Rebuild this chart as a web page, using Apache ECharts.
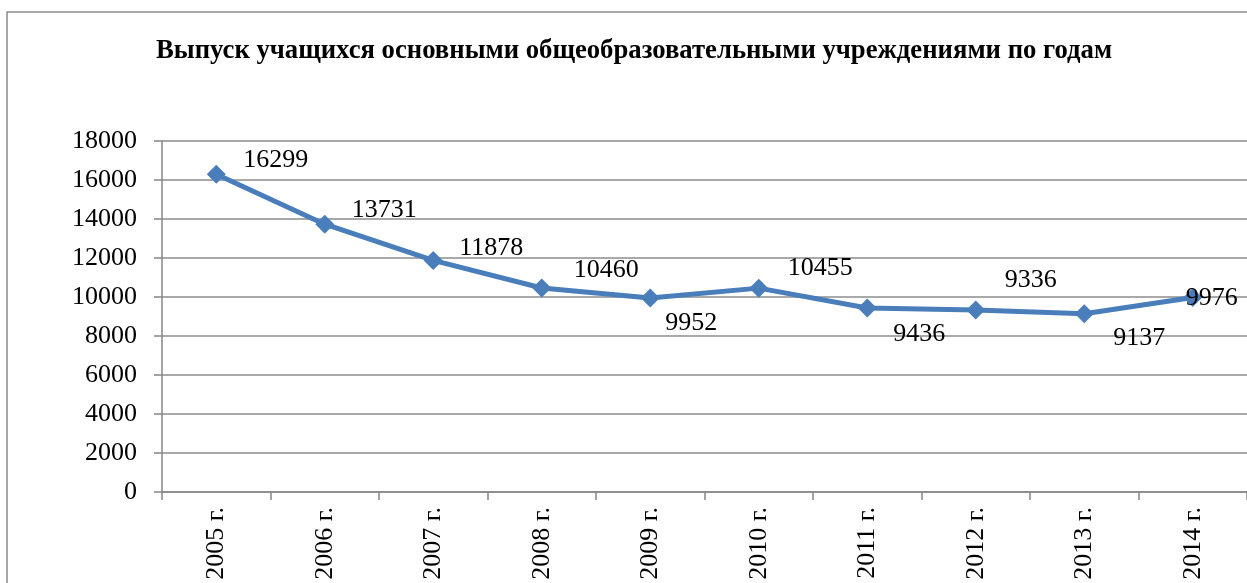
<!DOCTYPE html>
<html>
<head>
<meta charset="utf-8">
<script src="https://cdn.jsdelivr.net/npm/echarts@6/dist/echarts.min.js"></script>
<style>
html,body{margin:0;padding:0;background:#fff;}
#chart{width:1247px;height:583px;}
</style>
</head>
<body>
<div id="chart"></div>
<script>
// ---- data ----
const titleText = 'Выпуск учащихся основными общеобразовательными учреждениями по годам';
const categories = ['2005 г.', '2006 г.', '2007 г.', '2008 г.', '2009 г.', '2010 г.', '2011 г.', '2012 г.', '2013 г.', '2014 г.'];
const values = [16299, 13731, 11878, 10460, 9952, 10455, 9436, 9336, 9137, 9976];
const yTicks = [0, 2000, 4000, 6000, 8000, 10000, 12000, 14000, 16000, 18000];

// ---- presentation (label placement per point) ----
const labelOffsets = [[27,-14],[27,-14],[26,-12],[32,-18],[15,25],[29,-20],[26,26],[29,-30],[29,24],[-7,1]];

const FONT = 'Liberation Serif, Times New Roman, serif';
const FS = 26;
const chart = echarts.init(document.getElementById('chart'), null, {renderer:'canvas'});
const seriesData = values.map((v, i) => ({
  value: v,
  label: {
    show: true,
    position: 'inside',
    align: 'left',
    verticalAlign: 'middle',
    offset: labelOffsets[i],
    fontFamily: FONT,
    fontSize: FS,
    color: '#000'
  }
}));

chart.setOption({
  animation: false,
  backgroundColor: '#fff',
  title: {
    text: titleText,
    left: 151,
    top: 33,
    textStyle: {fontFamily: FONT, fontSize: 26.7, fontWeight: 'bold', color: '#000'}
  },
  graphic: [{
    type: 'rect',
    shape: {x: 7, y: 12, width: 1400, height: 800},
    style: {fill: 'none', stroke: '#8c8c8c', lineWidth: 1.5},
    silent: true,
    z: 100
  }],
  grid: {left: 162, right: -5, top: 141, bottom: 91, containLabel: false},
  xAxis: {
    type: 'category',
    data: categories,
    boundaryGap: true,
    axisLine: {lineStyle: {color: '#868686', width: 1.5}},
    axisTick: {show: true, length: 8, alignWithLabel: false, lineStyle: {color: '#868686', width: 1.5}},
    axisLabel: {rotate: 90, margin: 15, fontFamily: FONT, fontSize: FS, color: '#000', interval: 0},
    splitLine: {show: false}
  },
  yAxis: {
    type: 'value',
    min: yTicks[0],
    max: yTicks[yTicks.length - 1],
    interval: yTicks[1] - yTicks[0],
    axisLine: {show: true, lineStyle: {color: '#868686', width: 1.5}},
    axisTick: {show: true, length: 8, lineStyle: {color: '#868686', width: 1.5}},
    axisLabel: {margin: 25, fontFamily: FONT, fontSize: FS, color: '#000', formatter: v => String(v)},
    splitLine: {show: true, lineStyle: {color: '#8c8c8c', width: 1.5}}
  },
  series: [{
    type: 'line',
    data: seriesData,
    symbol: 'diamond',
    symbolSize: 19,
    lineStyle: {color: '#4a7ebb', width: 5},
    itemStyle: {color: '#4a7ebb'},
    z: 3
  }]
});
</script>
</body>
</html>
